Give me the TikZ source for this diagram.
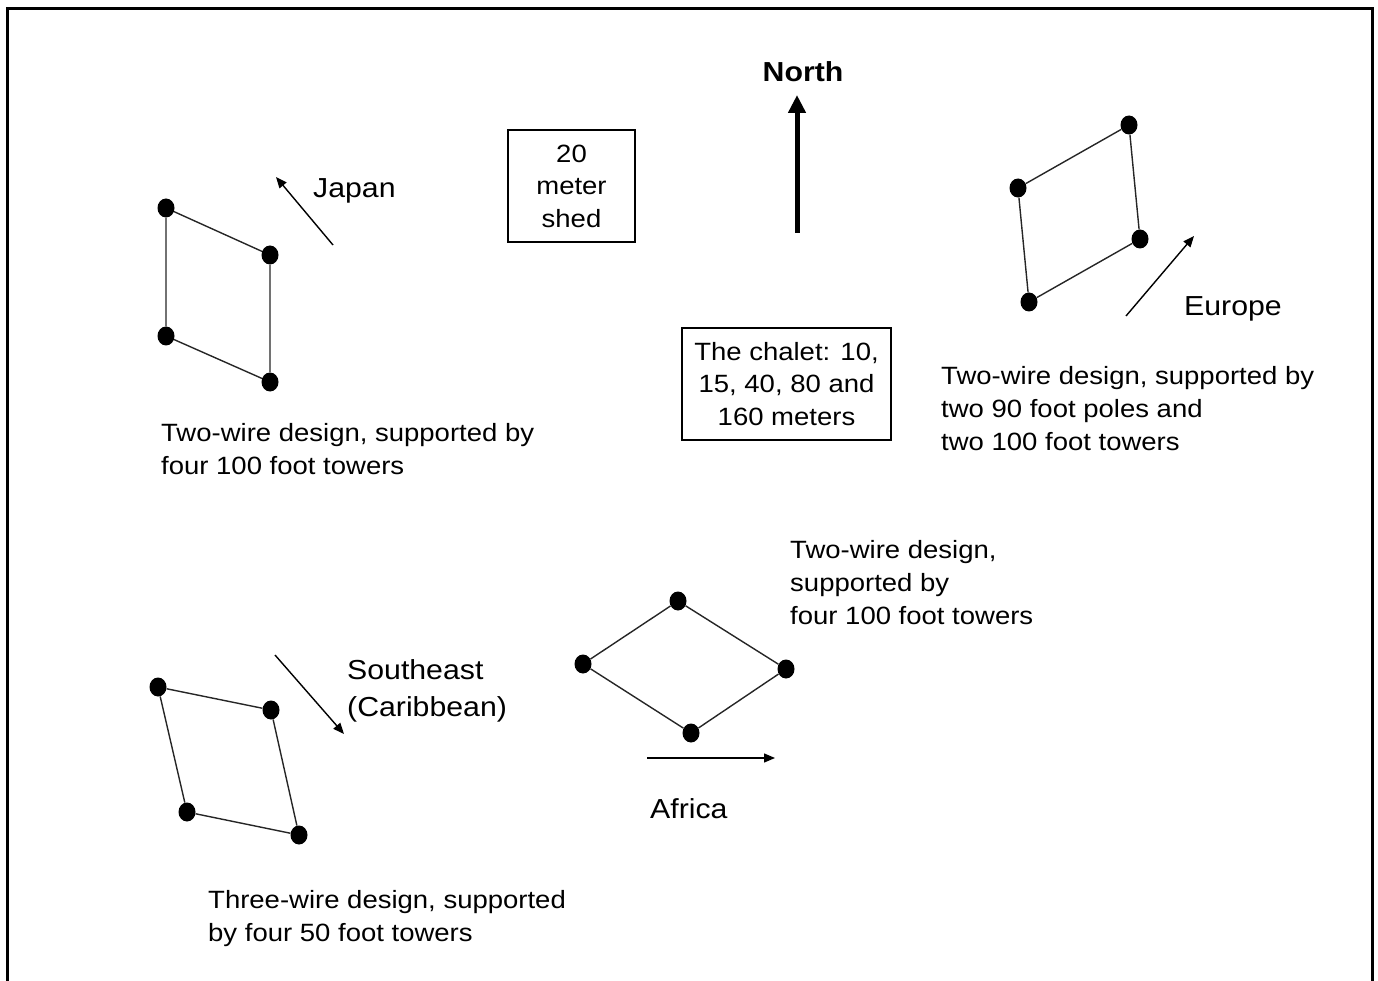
\documentclass[tikz,border=0pt]{standalone}
\usepackage{fontspec}
\setmainfont[FakeStretch=1.1]{Liberation Sans}
\usetikzlibrary{arrows.meta,shapes.geometric}
\begin{document}
\begin{tikzpicture}[x=1pt,y=-1pt,
  tower/.style={ellipse, fill=black, inner sep=0pt, minimum width=17pt, minimum height=19pt},
  wire/.style={line width=1.4pt, black!85},
  dirarrow/.style={line width=1.4pt, -{Triangle[width=9pt,length=11pt]}},
  desc/.style={anchor=north west, inner sep=0pt, align=left, font=\fontsize{25}{33}\selectfont},
  placename/.style={anchor=base west, inner sep=0pt, font=\fontsize{27.5}{37}\selectfont},
  infobox/.style={draw, line width=1.3pt, align=center, inner sep=0pt, font=\fontsize{25}{32.5}\selectfont}]
\useasboundingbox (0,0) rectangle (1378,981);
% frame
\draw[line width=3pt] (7,995) -- (7,9) -- (1372,9) -- (1372,995);

% Japan array
\node[tower] (j1) at (166,208) {};
\node[tower] (j2) at (270,255) {};
\node[tower] (j3) at (166,336) {};
\node[tower] (j4) at (270,382) {};
\draw[wire] (j1) -- (j2) -- (j4) -- (j3) -- (j1);
\coordinate (ja) at (333,245);
\coordinate (jb) at (276,177);
\draw[dirarrow] (ja) -- (jb);
\node[placename] (jname) at (313,198) {Japan};
\node[desc] (jdesc) at (161,423) {Two-wire design, supported by\\four 100 foot towers};

% shed
\node[infobox, minimum width=127pt, minimum height=112pt] (shed) at (571.5,186) {20\\meter\\shed};

% North
\coordinate (na) at (797,233);
\coordinate (nb) at (797,95);
\draw[line width=5pt, -{Triangle[width=17pt,length=18pt]}] (na) -- (nb);
\node[anchor=base, inner sep=0pt, font=\bfseries\fontsize{27.5}{33}\selectfont] (north) at (803,82) {North};

% chalet
\node[infobox, minimum width=209pt, minimum height=112pt] (chalet) at (786.5,384) {The chalet: 10,\\15, 40, 80 and\\160 meters};

% Europe array
\node[tower] (e1) at (1129,125) {};
\node[tower] (e2) at (1018,188) {};
\node[tower] (e3) at (1140,239) {};
\node[tower] (e4) at (1029,302) {};
\draw[wire] (e1) -- (e2) -- (e4) -- (e3) -- (e1);
\coordinate (ea) at (1126,316);
\coordinate (eb) at (1194,236);
\draw[dirarrow] (ea) -- (eb);
\node[placename] (ename) at (1184,316) {Europe};
\node[desc] (edesc) at (941,366) {Two-wire design, supported by\\two 90 foot poles and\\two 100 foot towers};

% Africa array
\node[tower] (a1) at (678,601) {};
\node[tower] (a2) at (583,664) {};
\node[tower] (a3) at (786,669) {};
\node[tower] (a4) at (691,733) {};
\draw[wire] (a1) -- (a2) -- (a4) -- (a3) -- (a1);
\coordinate (aa) at (647,758);
\coordinate (ab) at (775,758);
\draw[dirarrow] (aa) -- (ab);
\node[placename] (aname) at (650,818) {Africa};
\node[desc] (adesc) at (790,540) {Two-wire design,\\supported by\\four 100 foot towers};

% Southeast array
\node[tower] (s1) at (158,687) {};
\node[tower] (s2) at (271,710) {};
\node[tower] (s3) at (187,812) {};
\node[tower] (s4) at (299,835) {};
\draw[wire] (s1) -- (s2) -- (s4) -- (s3) -- (s1);
\coordinate (sa) at (275,655);
\coordinate (sb) at (344,734);
\draw[dirarrow] (sa) -- (sb);
\node[placename, anchor=north west, align=left] (sname) at (347,659) {Southeast\\(Caribbean)};
\node[desc] (sdesc) at (208,890) {Three-wire design, supported\\by four 50 foot towers};
\end{tikzpicture}
\end{document}
